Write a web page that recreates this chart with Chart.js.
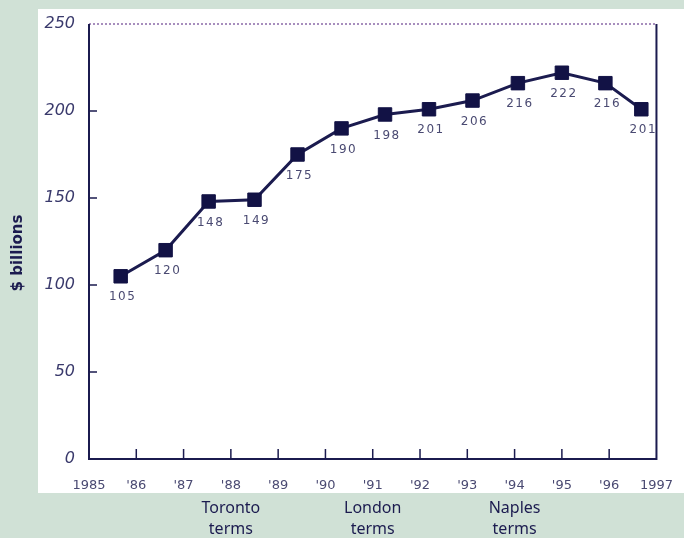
<!DOCTYPE html>
<html lang="en">
<head>
    <meta charset="UTF-8">
    <title>Spending, $ billions</title>
    <script src="https://cdn.jsdelivr.net/npm/chart.js@4"></script>
    <style>
        html, body { margin: 0; padding: 0; background: #d0e1d6; }
        #wrap { position: relative; width: 684px; height: 538px; }
    </style>
</head>
<body>
<div id="wrap"><canvas id="chart" width="684" height="538"></canvas></div>
<script>
    // x position (fractional year) of each point and its value, $ billions
    const years = [1985.67, 1986.62, 1987.53, 1988.5, 1989.41, 1990.34, 1991.26,
                   1992.19, 1993.11, 1994.07, 1995.0, 1995.92, 1996.68];
    const values = [105, 120, 148, 149, 175, 190, 198, 201, 206, 216, 222, 216, 201];
    const tickLabels = ['1985', "'86", "'87", "'88", "'89", "'90", "'91",
                        "'92", "'93", "'94", "'95", "'96", '1997'];
    const summitYears = [1988, 1991, 1994];
    const summitNames = ['Toronto', 'London', 'Naples'];

    const navy = '#1b1b4f';

    // white panel, axis frame, tick marks, point labels and notes
    const decor = {
        id: 'decor',
        beforeDraw(chart) {
            const ctx = chart.ctx;
            ctx.save();
            ctx.fillStyle = '#ffffff';
            ctx.fillRect(38, 9, 646, 484);
            ctx.restore();
        },
        afterDatasetsDraw(chart) {
            const ctx = chart.ctx;
            const a = chart.chartArea;
            const x = chart.scales.x, y = chart.scales.y;
            ctx.save();
            // dotted top edge
            ctx.strokeStyle = '#8a6aa8';
            ctx.lineWidth = 1.5;
            ctx.setLineDash([2, 2]);
            ctx.beginPath();
            ctx.moveTo(a.left, a.top); ctx.lineTo(a.right, a.top);
            ctx.stroke();
            ctx.setLineDash([]);
            // left, bottom, right edges
            ctx.strokeStyle = navy;
            ctx.lineWidth = 2;
            ctx.beginPath();
            ctx.moveTo(a.left, a.top); ctx.lineTo(a.left, a.bottom);
            ctx.lineTo(a.right, a.bottom); ctx.lineTo(a.right, a.top);
            ctx.stroke();
            // inner tick marks
            ctx.lineWidth = 1.5;
            ctx.beginPath();
            for (let v = 50; v < 250; v += 50) {
                const py = y.getPixelForValue(v);
                ctx.moveTo(a.left, py); ctx.lineTo(a.left + 8, py);
            }
            for (let yr = 1986; yr < 1997; yr++) {
                const px = x.getPixelForValue(yr);
                ctx.moveTo(px, a.bottom); ctx.lineTo(px, a.bottom - 10);
            }
            ctx.stroke();
            // value under each point
            const meta = chart.getDatasetMeta(0);
            ctx.fillStyle = '#4a4a72';
            ctx.font = '12px "DejaVu Sans"';
            ctx.letterSpacing = '1.5px';
            ctx.textAlign = 'center';
            ctx.textBaseline = 'middle';
            meta.data.forEach((pt, i) => {
                ctx.fillText(String(values[i]), pt.x + 2, pt.y + 21);
            });
            ctx.letterSpacing = '0px';
            // axis title
            ctx.fillStyle = navy;
            ctx.font = 'bold 15px "DejaVu Sans"';
            ctx.translate(18, 253);
            ctx.rotate(-Math.PI / 2);
            ctx.fillText('$ billions', 0, 0);
            ctx.setTransform(1, 0, 0, 1, 0, 0);
            // summit notes
            ctx.font = '16px "Noto Sans"';
            summitYears.forEach((yr, i) => {
                const px = x.getPixelForValue(yr);
                ctx.fillText(summitNames[i], px, 508);
                ctx.fillText('terms', px, 529);
            });
            ctx.restore();
        }
    };

    new Chart(document.getElementById('chart'), {
        type: 'line',
        data: {
            datasets: [{
                data: years.map((yr, i) => ({ x: yr, y: values[i] })),
                borderColor: navy,
                borderWidth: 3,
                backgroundColor: '#121245',
                pointStyle: 'rect',
                pointRadius: 9.5,
                pointBorderColor: '#121245',
                pointBorderWidth: 1,
                tension: 0
            }]
        },
        options: {
            responsive: false,
            animation: false,
            layout: { padding: { left: 38, right: 25, top: 24, bottom: 45 } },
            plugins: { legend: { display: false }, tooltip: { enabled: false } },
            scales: {
                x: {
                    type: 'linear',
                    min: 1985, max: 1997,
                    afterFit: s => { s.height = 34; },
                    afterBuildTicks: s => {
                        s.ticks = tickLabels.map((t, i) => ({ value: 1985 + i }));
                    },
                    border: { display: false },
                    grid: { display: false },
                    ticks: {
                        autoSkip: false,
                        maxRotation: 0,
                        color: '#4a4a72',
                        font: { family: 'DejaVu Sans', size: 13 },
                        padding: 11,
                        callback: (v, i) => tickLabels[i]
                    }
                },
                y: {
                    min: 0, max: 250,
                    afterFit: s => { s.width = 51; },
                    border: { display: false },
                    grid: { display: false },
                    ticks: {
                        stepSize: 50,
                        color: '#3a3a6c',
                        font: { family: 'DejaVu Sans', size: 16, style: 'italic' },
                        padding: 6
                    }
                }
            }
        },
        plugins: [decor]
    });
</script>
</body>
</html>
